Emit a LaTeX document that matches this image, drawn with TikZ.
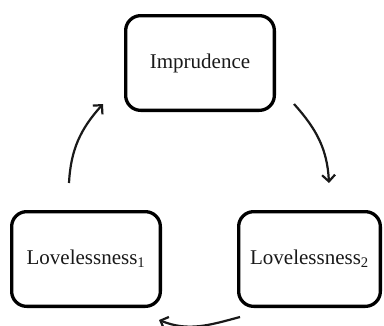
\documentclass[tikz,border=0pt]{standalone}
\usepackage{fontspec}
\setmainfont{Liberation Serif}
\usetikzlibrary{arrows.meta}
\begin{document}
\begin{tikzpicture}[x=1pt,y=1pt,
  box/.style={draw=black, line width=3.3pt, rounded corners=15pt, inner sep=0pt,
    minimum height=94.7pt, font=\fontsize{21}{24}\selectfont, text=black!90},
  conn/.style={draw=black!90, line width=2.2pt, -{Straight Barb[length=6.5pt,width=13pt]}}]
\useasboundingbox (0,0) rectangle (384,325);
\node[box, minimum width=148.7pt] (T) at (200,262) {Imprudence};
\node[box, minimum width=148.7pt] (L) at (86,66) {Lovelessness\textsubscript{1}};
\node[box, minimum width=141.7pt] (R) at (309.5,66) {Lovelessness\textsubscript{2}};
\coordinate (a1) at (69,142);
\coordinate (a2) at (103,221);
\coordinate (b1) at (294,221);
\coordinate (b2) at (329,142);
\coordinate (c1) at (240,8);
\coordinate (c2) at (159,5);
\draw[conn] (a1) to[out=87,in=228] (a2);
\draw[conn] (b1) to[out=-48,in=93] (b2);
\draw[conn] (c1) to[out=195,in=-22] (c2);
\end{tikzpicture}
\end{document}
